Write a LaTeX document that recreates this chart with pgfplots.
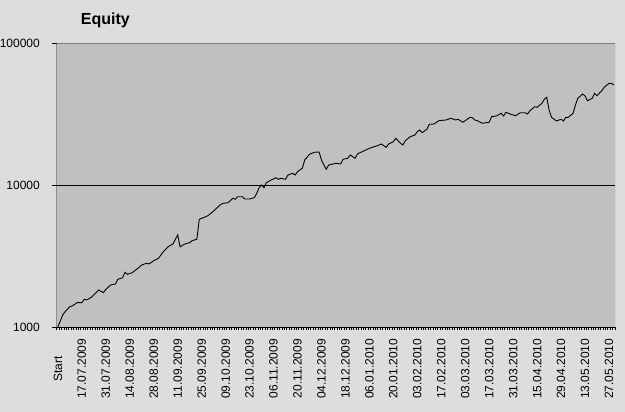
\documentclass[border=0pt]{standalone}
\usepackage{pgfplots}
\pgfplotsset{compat=1.18}
\usepackage{fontspec}
\setmainfont{Liberation Sans}
\definecolor{chartbg}{RGB}{221,221,221}
\definecolor{plotbg}{RGB}{192,192,192}
\definecolor{framegray}{RGB}{128,128,128}

\begin{document}
\begin{tikzpicture}[x=1pt,y=1pt]
\fill[chartbg] (0,0) rectangle (625,412);
\useasboundingbox (0,0) rectangle (625,412);
\node[anchor=base west, inner sep=0pt, font=\fontsize{16}{18}\selectfont\bfseries] at (80.7,387) {Equity};
\begin{axis}[
  at={(56.7pt,85pt)}, anchor=south west,
  scale only axis, width=558.3pt, height=284pt,
  ymode=log, ymin=1000, ymax=100000,
  xmin=-0.5, xmax=232.5,
  axis background/.style={fill=plotbg},
  axis line style={draw=none},
  tick align=outside,
  xtick pos=bottom, ytick pos=left,
  tick style={black, line width=0.7pt},
  major tick length=3pt,
  xtick={-0.5,0.5,...,232.5},
  xticklabels={},
  extra x ticks={0,10,...,230},
  extra x tick labels={Start,17.07.2009,31.07.2009,14.08.2009,28.08.2009,11.09.2009,25.09.2009,09.10.2009,23.10.2009,06.11.2009,20.11.2009,04.12.2009,18.12.2009,06.01.2010,20.01.2010,03.02.2010,17.02.2010,03.03.2010,17.03.2010,31.03.2010,15.04.2010,29.04.2010,13.05.2010,27.05.2010},
  extra x tick style={major tick length=0pt, grid=none},
  ytick=\empty,
  extra y ticks={1000,10000,100000},
  extra y tick labels={1000,10000,100000},
  extra y tick style={major tick length=5pt, grid=major},
  minor y tick style={draw=none},
  grid style={black, line width=0.8pt},
  xticklabel style={yshift=-41.7pt, rotate=90, anchor=center, font=\fontsize{12}{14}\selectfont},
  yticklabel style={anchor=east, inner sep=0pt, xshift=-11.7pt, font=\fontsize{12}{14}\selectfont},
]
\addplot[black, line width=0.9pt] coordinates {
(0,1000) (2,1215) (3,1282) (5,1390) (6,1406) (8,1483) (10,1483) (11,1567)
(12,1549) (14,1619) (15,1680) (17,1822) (19,1745) (20,1842) (22,1976) (24,2009)
(25,2167) (27,2224) (28,2427) (29,2350) (31,2412) (33,2560) (35,2733) (37,2810)
(38,2778) (40,2930) (42,3048) (44,3390) (46,3674) (48,3843) (50,4446) (51,3674)
(53,3843) (55,3925) (56,4053) (58,4148) (59,5731) (60,5826) (62,6000) (63,6150)
(65,6560) (68,7310) (69,7430) (71,7500) (73,8060) (74,7930) (75,8270) (77,8270)
(78,7970) (80,7970) (82,8140) (83,8740) (84,9570) (85,10000) (86,9570) (87,10380)
(89,10840) (91,11250) (92,10970) (93,11140) (95,10970) (96,11750) (98,12090) (99,11750)
(100,12410) (102,13110) (103,15000) (105,16450) (107,16990) (109,17080) (110,15000) (111,13830)
(112,12900) (113,13830) (115,14060) (116,14220) (118,14060) (119,15170) (121,15420) (122,16270)
(124,15420) (125,16530) (127,17170) (130,18130) (132,18620) (133,18820) (135,19440) (137,18420)
(138,19440) (140,20180) (141,21320) (143,19660) (144,19130) (145,20510) (147,21880) (149,22490)
(150,23740) (151,24390) (152,23350) (154,24670) (155,26740) (157,26900) (159,28380) (162,28700)
(164,29500) (166,28700) (167,29020) (169,27660) (170,28380) (172,29970) (173,29780) (174,28700)
(175,28380) (177,27210) (180,27660) (181,30270) (183,30620) (185,31990) (186,30620) (187,32510)
(189,31470) (191,30760) (193,32290) (195,32290) (196,31620) (197,33370) (199,35580) (200,35250)
(202,37600) (203,40140) (204,41470) (205,33750) (206,29970) (207,29150) (208,28240) (210,29020)
(211,28240) (212,29970) (213,29970) (215,31990) (216,36560) (217,40800) (219,43750) (220,42360)
(221,39250) (223,40800) (224,44240) (225,42540) (227,46140) (228,48750) (230,52000) (231,52000)
(232,50600)
};
\draw[framegray, line width=0.8pt] (rel axis cs:0,1) -- (rel axis cs:1,1) -- (rel axis cs:1,0);
\draw[black, line width=0.8pt] (rel axis cs:0,1) -- (rel axis cs:0,0) -- (rel axis cs:1,0);
\end{axis}
\end{tikzpicture}
\end{document}
